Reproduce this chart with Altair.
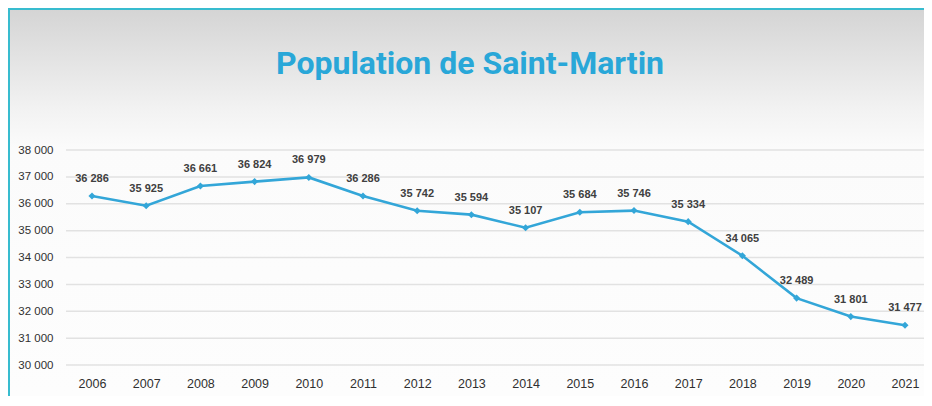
import altair as alt
import pandas as pd

years = [2006, 2007, 2008, 2009, 2010, 2011, 2012, 2013, 2014, 2015, 2016, 2017, 2018, 2019, 2020, 2021]
population = [36286, 35925, 36661, 36824, 36979, 36286, 35742, 35594, 35107, 35684, 35746, 35334, 34065, 32489, 31801, 31477]
y_ticks = [30000, 31000, 32000, 33000, 34000, 35000, 36000, 37000, 38000]
title_text = "Population de Saint-Martin"

W, H = 916, 388
px_per = 215 / 8000.0
y_top = 38000 + 142 / px_per
y_bot = y_top - H / px_per
step = 813 / 15.0
x_left = 2006 - 84 / step
x_right = 2021 + (W - 897) / step

df = pd.DataFrame({"year": years, "pop": population})
grid_df = pd.DataFrame({"v": y_ticks})
one = pd.DataFrame({"a": [0]})

xs = alt.Scale(domain=[x_left, x_right], nice=False, zero=False)
ys = alt.Scale(domain=[y_bot, y_top], nice=False, zero=False)

LINE = "#33a6d8"
fmt = "replace(format(datum.value, ','), ',', ' ')"

bg = alt.Chart(one).mark_rect(
    color=alt.LinearGradient(
        gradient="linear",
        stops=[
            alt.GradientStop(color="#d4d4d4", offset=0),
            alt.GradientStop(color="#f2f2f2", offset=0.26),
            alt.GradientStop(color="#fbfbfb", offset=0.36),
            alt.GradientStop(color="#fdfdfd", offset=1),
        ],
        x1=0, x2=0, y1=0, y2=1,
    )
).encode(x=alt.value(0), x2=alt.value(W), y=alt.value(0), y2=alt.value(H))

border_left = alt.Chart(one).mark_rule(color="#38bccf", strokeWidth=2).encode(
    x=alt.value(1), y=alt.value(0), y2=alt.value(H)
)
border_top = alt.Chart(one).mark_rule(color="#38bccf", strokeWidth=2).encode(
    y=alt.value(1), x=alt.value(0), x2=alt.value(W)
)

grid = alt.Chart(grid_df).mark_rule(color="#e2e2e2", strokeWidth=1.5).encode(
    y=alt.Y("v:Q", scale=ys,
            axis=alt.Axis(values=y_ticks, grid=False, domain=False, ticks=False,
                          labelExpr=fmt, offset=-50, labelPadding=5, zindex=2,
                          labelFont="Liberation Sans", labelFontSize=11.5,
                          labelColor="#303030", title=None)),
    x=alt.value(58), x2=alt.value(W),
)

base = alt.Chart(df).encode(
    x=alt.X("year:Q", scale=xs,
            axis=alt.Axis(values=years, format="d", grid=False, domain=False, ticks=False,
                          offset=-24, labelPadding=5, labelFont="Liberation Sans", zindex=2,
                          labelFontSize=12.5, labelColor="#303030", title=None)),
    y=alt.Y("pop:Q", scale=ys),
)

line = base.mark_line(color=LINE, strokeWidth=2.6)
pts = base.mark_point(shape="diamond", filled=True, color=LINE, size=50, opacity=1)
labels = base.transform_calculate(
    lab="replace(format(datum.pop, ','), ',', ' ')"
).mark_text(dy=-17, font="Liberation Sans", fontSize=11, fontWeight="bold", color="#404040").encode(
    text="lab:N"
)

title = alt.Chart(one).mark_text(
    text=title_text, font="Roboto", fontSize=32, fontWeight="bold", color="#29a7d8",
    align="center", baseline="middle"
).encode(x=alt.value(462), y=alt.value(56))

chart = alt.layer(bg, border_left, border_top, grid, line, pts, labels, title).properties(
    width=W, height=H, padding=0, autosize=alt.AutoSizeParams(type="none"),
    background="white",
).configure_view(stroke=None)

chart.save("out.html", embed_options={"renderer": "svg", "actions": False})
